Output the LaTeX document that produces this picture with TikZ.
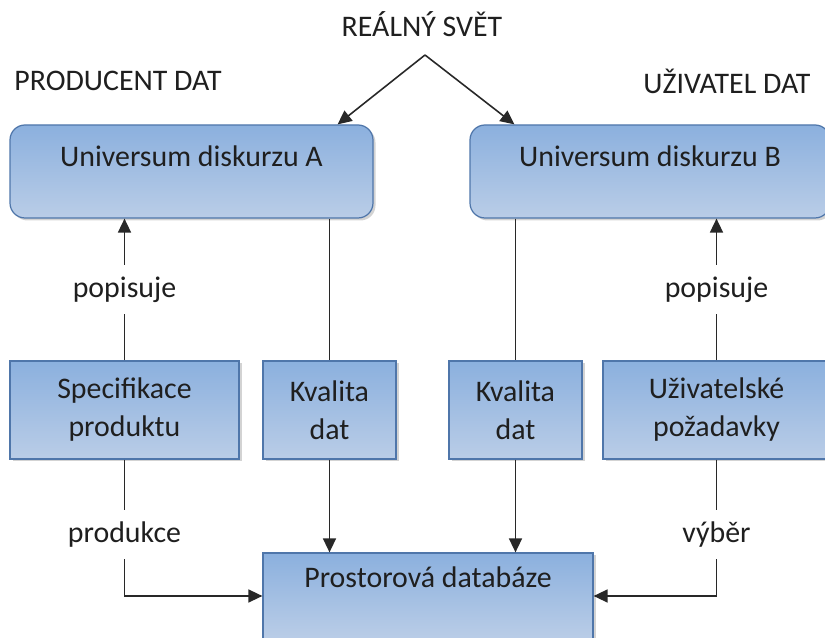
\documentclass[tikz,border=0pt]{standalone}
\usepackage{fontspec}
\setmainfont{Carlito}
\usepackage{xcolor}
\usepackage{tikz}
\usetikzlibrary{positioning,calc,arrows.meta,shadows}

\definecolor{boxtop}{RGB}{139,176,222}
\definecolor{boxbot}{RGB}{186,205,231}
\definecolor{boxline}{RGB}{79,118,170}
\definecolor{linegray}{RGB}{40,40,40}

\begin{document}
\begin{tikzpicture}[
        font=\fontsize{17}{21.6}\selectfont,
        box/.style={draw=boxline, line width=0.7pt, top color=boxtop, bottom color=boxbot,
            drop shadow={shadow xshift=0.05cm, shadow yshift=-0.05cm, opacity=0.35},
            inner sep=0pt, align=center, text=black!88},
        univ/.style={box, rounded corners=0.3cm, minimum height=1.86cm, text height=0.84cm, text depth=1.02cm},
        small/.style={box, minimum height=1.96cm},
        conn/.style={draw=linegray, line width=0.9pt},
        arr/.style={conn, -{Triangle[length=0.28cm, width=0.26cm]}},
        lbl/.style={fill=white, inner sep=0pt, minimum height=0.98cm, text=black!88},
        head/.style={text=black!88}
    ]
        \useasboundingbox (0,0) rectangle (16.5,12.76);

        % Headings
        \node[head] (real) at (8.44,12.28) {REÁLNÝ SVĚT};
        \node[head] (prod) at (2.36,11.14) {PRODUCENT DAT};
        \node[head] (user) at (14.54,11.14) {UŽIVATEL DAT};
        \coordinate (apex) at (8.5,11.66);

        % Universum diskurzu
        \node[univ, minimum width=7.26cm] (uA) at (3.83,9.33) {Universum diskurzu A};
        \node[univ, minimum width=7.2cm] (uB) at (13.0,9.33) {Universum diskurzu B};

        % Middle row
        \node[small, minimum width=4.58cm] (spec) at (2.49,4.56) {Specifikace\\produktu};
        \node[small, minimum width=2.66cm] (kA) at (6.59,4.56) {Kvalita\\dat};
        \node[small, minimum width=2.66cm] (kB) at (10.31,4.56) {Kvalita\\dat};
        \node[small, minimum width=4.54cm] (req) at (14.33,4.56) {Uživatelské\\požadavky};

        % Database
        \node[box, minimum width=6.6cm, minimum height=1.72cm, text height=0.7cm, text depth=1.02cm] (db) at (8.56,0.84) {Prostorová databáze};

        % Real world splits
        \draw[arr] (apex) -- ($(uA.north east)+(-0.72,0)$);
        \draw[arr] (apex) -- ($(uB.north west)+(0.9,0)$);

        % popisuje
        \draw[arr] (spec.north) -- node[lbl] {popisuje} (spec.north |- uA.south);
        \draw[arr] (req.north) -- node[lbl] {popisuje} (req.north |- uB.south);

        % Kvalita dat
        \draw[conn] (kA.north |- uA.south) -- (kA.north);
        \draw[conn] (kB.north |- uB.south) -- (kB.north);
        \draw[arr] (kA.south) -- (kA.south |- db.north);
        \draw[arr] (kB.south) -- (kB.south |- db.north);

        % produkce / vyber
        \draw[arr] (spec.south) -- node[lbl, pos=0.55] {produkce} (spec.south |- db.west) -- (db.west);
        \draw[arr] (req.south) -- node[lbl, pos=0.55] {výběr} (req.south |- db.east) -- (db.east);
    \end{tikzpicture}
\end{document}
